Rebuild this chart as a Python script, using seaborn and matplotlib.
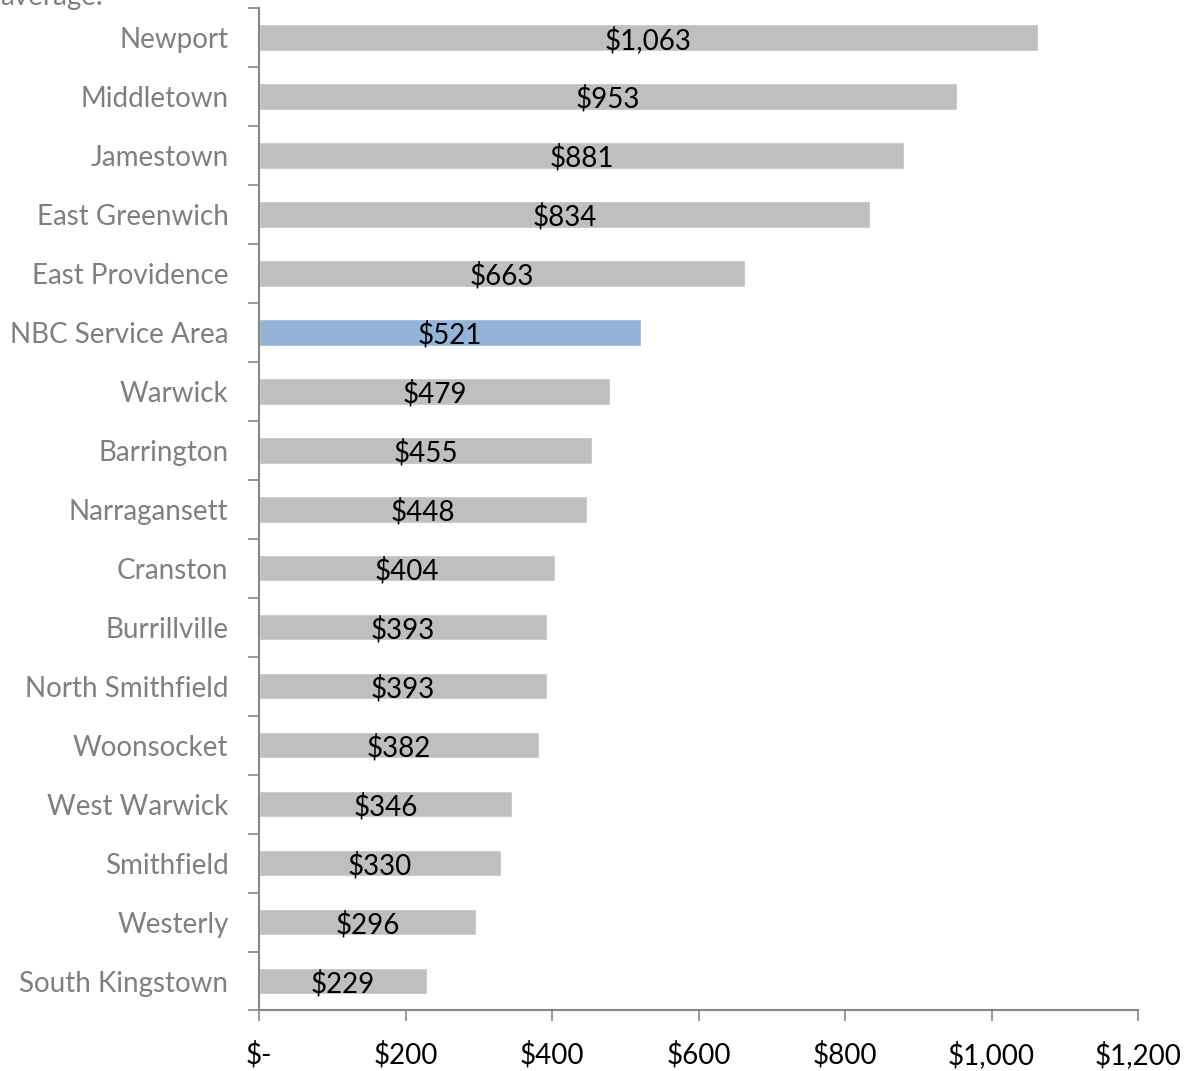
import matplotlib
matplotlib.use("Agg")
import matplotlib.pyplot as plt
import seaborn as sns
import pandas as pd
import numpy as np

communities = ["Newport", "Middletown", "Jamestown", "East Greenwich", "East Providence",
               "NBC Service Area", "Warwick", "Barrington", "Narragansett", "Cranston",
               "Burrillville", "North Smithfield", "Woonsocket", "West Warwick",
               "Smithfield", "Westerly", "South Kingstown"]
annual_cost = [1063, 953, 881, 834, 663, 521, 479, 455, 448, 404, 393, 393, 382, 346, 330, 296, 229]
x_ticks = [0, 200, 400, 600, 800, 1000, 1200]
x_tick_labels = ["$-", "$200", "$400", "$600", "$800", "$1,000", "$1,200"]
highlight = "NBC Service Area"

sns.set_theme(style="white")
plt.rcParams["font.family"] = ["Lato", "DejaVu Sans"]

df = pd.DataFrame({"community": communities, "cost": annual_cost})
df["group"] = np.where(df["community"] == highlight, "nbc", "other")

fig = plt.figure(figsize=(11.92, 10.71), dpi=100)
ax = fig.add_axes([0.2173, 0.0565, 0.7374, 0.936])

sns.barplot(data=df, y="community", x="cost", hue="group", orient="h",
            palette={"nbc": "#95B3D7", "other": "#BFBFBF"}, dodge=False,
            width=0.45, legend=False, ax=ax, saturation=1)

# value labels centred inside each bar
for i, v in enumerate(annual_cost):
    ax.text(v / 2, i + 0.04, f"${v:,}", ha="center", va="center", fontsize=20, color="black")

ax.set_xlim(0, 1200)
ax.set_ylim(len(communities) - 0.5, -0.5)
ax.set_xticks(x_ticks)
ax.set_xticklabels(x_tick_labels, fontsize=20, color="black")
ax.set_yticks(range(len(communities)))
ax.set_yticklabels(communities, fontsize=20, color="#7F7F7F")
ax.set_yticks(np.arange(-0.5, len(communities)), minor=True)
ax.tick_params(axis="y", which="major", length=0, pad=22)
ax.tick_params(axis="y", which="minor", length=8, width=1.2, color="#868686", direction="out", left=True)
ax.tick_params(axis="x", which="major", length=8, width=1.2, color="#868686", direction="out", bottom=True, pad=14)
ax.set_xlabel("")
ax.set_ylabel("")

for s in ["top", "right"]:
    ax.spines[s].set_visible(False)
for s in ["left", "bottom"]:
    ax.spines[s].set_color("#868686")
    ax.spines[s].set_linewidth(1.5)

fig.text(0.0, 1 - 5 / 1071, "average.", fontsize=20, color="#7F7F7F", ha="left", va="baseline")

fig.savefig("out.png", dpi=100)
